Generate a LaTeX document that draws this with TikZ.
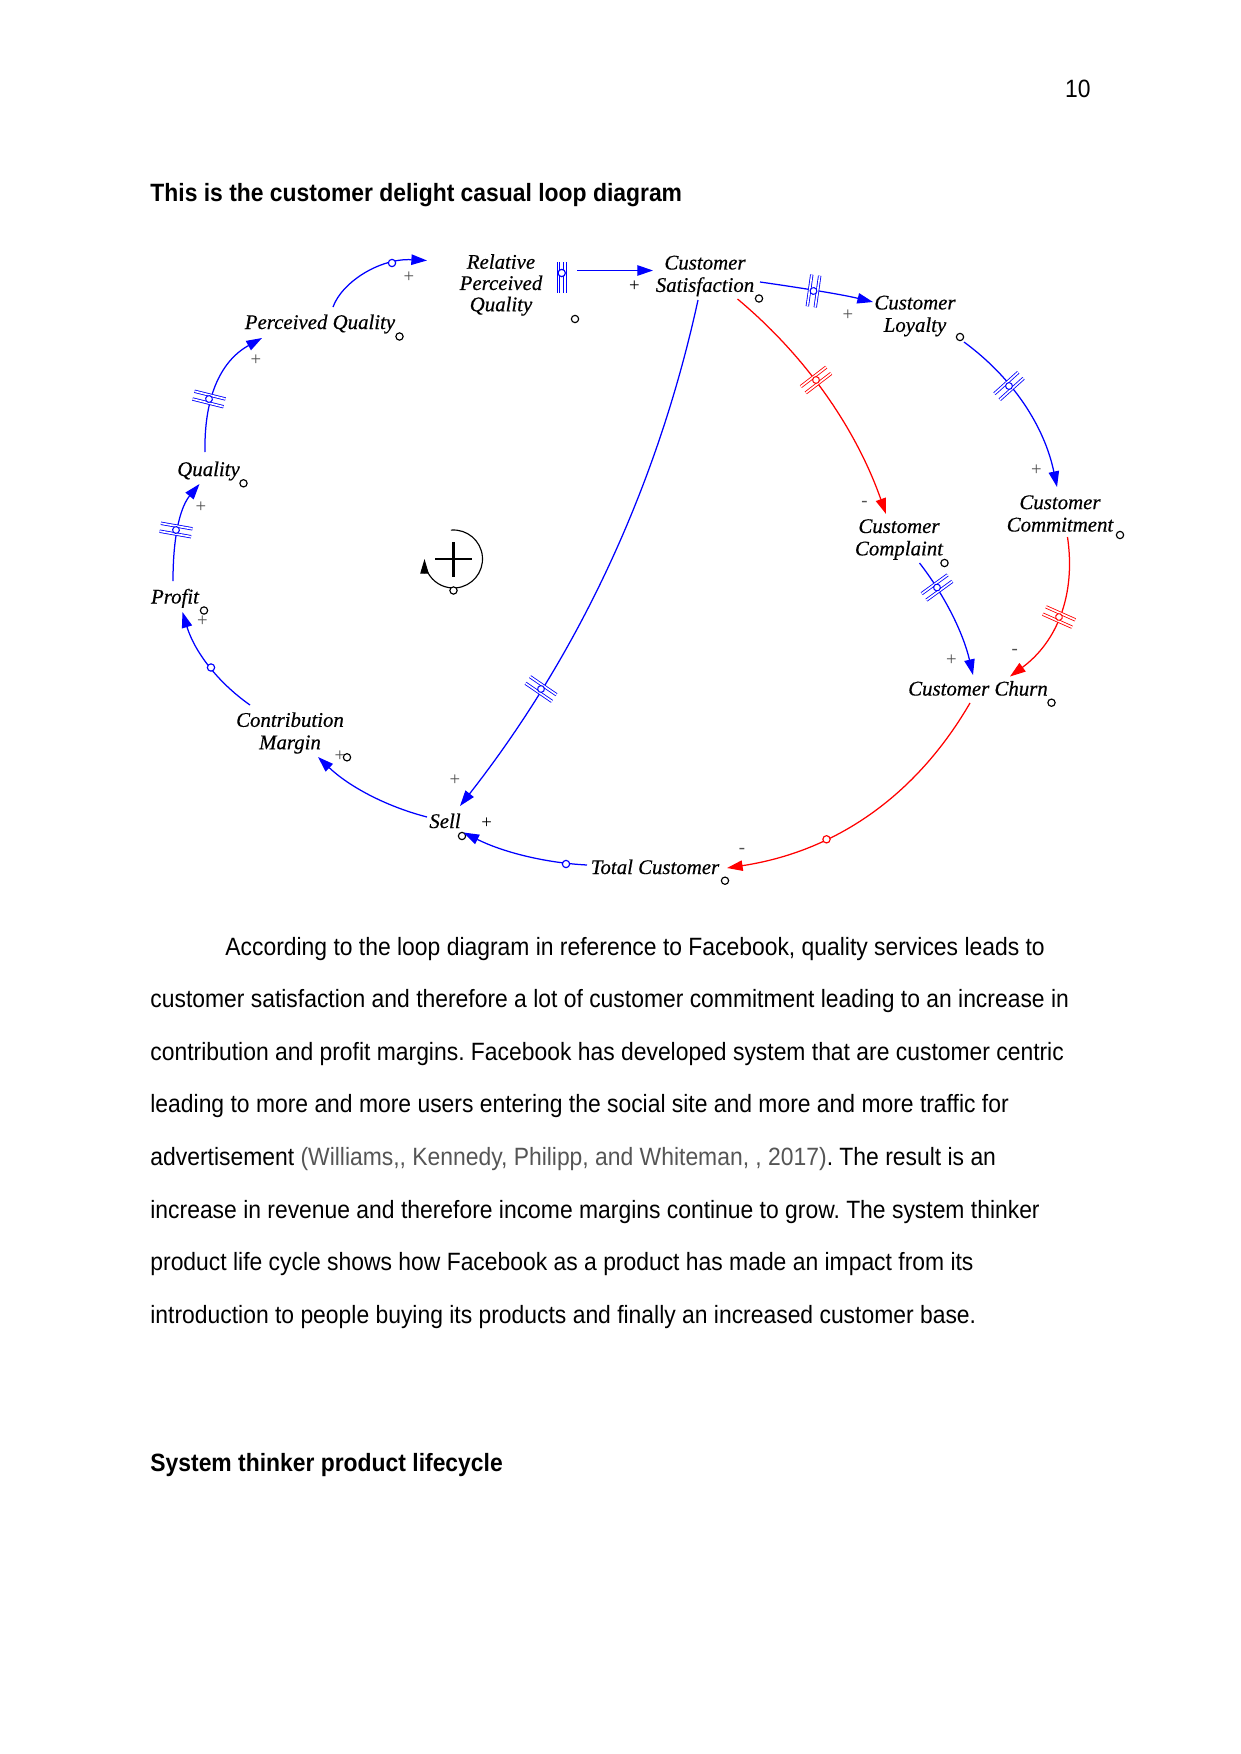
\documentclass[tikz,border=0pt]{standalone}
\usepackage{fontspec}
\setmainfont{Liberation Sans}
\newfontfamily\bodyfont{Liberation Sans}[FakeStretch=0.915]
\newfontfamily\vfont{Liberation Serif}[FakeBold=0.45]
\newfontfamily\sgnfont{Liberation Serif}
\usetikzlibrary{arrows.meta}
\definecolor{vblue}{HTML}{0000FF}
\definecolor{vred}{HTML}{FF0000}
\definecolor{sgn}{HTML}{505050}
\definecolor{citegray}{HTML}{555555}
\frenchspacing
\begin{document}
\begin{tikzpicture}[x=0.4797pt, y=-0.4797pt,
  var/.style={font=\vfont\itshape\fontsize{10}{10.75}\selectfont, inner sep=0pt, align=center},
  body/.style={font=\bodyfont\fontsize{12}{14}\selectfont, inner sep=0pt, anchor=base west},
  head/.style={font=\bodyfont\bfseries\fontsize{12}{14}\selectfont, inner sep=0pt, anchor=base west},
  link/.style={line width=0.6pt, -{Triangle[length=7.5pt,width=5pt]}},
  pol/.style={font=\sgnfont\fontsize{9}{9}\selectfont, text=sgn, inner sep=0pt},
  hole/.style={circle, draw, fill=white, line width=0.55pt, inner sep=0pt, minimum size=3.5pt},
  pics/delaymark/.style={code={
    \draw[line width=0.4pt, double=white, double distance=0.8pt] (-4,-16) -- (-4,16) (4,-16) -- (4,16);
    \draw[line width=0.5pt, fill=white] (0,0) circle (3.4);
  }}
]
\useasboundingbox (0,0) rectangle (1241,1754);

% ---------- page text ----------
\node[body, anchor=base east] (pgnum) at (1091,97.5) {10};
\node[head] (title) at (150,201) {This is the customer delight casual loop diagram};
\node[body] (l1) at (225,955) {According to the loop diagram in reference to Facebook, quality services leads to};
\node[body] (l2) at (150,1007.6) {customer satisfaction and therefore a lot of customer commitment leading to an increase in};
\node[body] (l3) at (150,1060.2) {contribution and profit margins. Facebook has developed system that are customer centric};
\node[body] (l4) at (150,1112.8) {leading to more and more users entering the social site and more and more traffic for};
\node[body] (l5) at (150,1165.4) {advertisement {\color{citegray}(Williams,, Kennedy, Philipp, and Whiteman, , 2017)}. The result is an};
\node[body] (l6) at (150,1218) {increase in revenue and therefore income margins continue to grow. The system thinker};
\node[body] (l7) at (150,1270.6) {product life cycle shows how Facebook as a product has made an impact from its};
\node[body] (l8) at (150,1323.2) {introduction to people buying its products and finally an increased customer base.};
\node[head] (title2) at (150,1471.5) {System thinker product lifecycle};

% ---------- variables ----------
\node[var, font=\vfont\itshape\fontsize{10}{10.2}\selectfont] (rpq) at (501,285) {Relative\\Perceived\\Quality};
\node[var] (cs) at (705,276) {Customer\\Satisfaction};
\node[var] (cl) at (915,316) {Customer\\Loyalty};
\node[var] (ccm) at (1060,513.5) {Customer\\Commitment};
\node[var] (ccp) at (899,539.5) {Customer\\Complaint};
\node[var] (cm) at (290,733) {Contribution\\Margin};
\node[var, anchor=base] (pq) at (320,329) {Perceived Quality};
\node[var, anchor=base] (q) at (208.5,476) {Quality};
\node[var, anchor=base] (pr) at (175,603.5) {Profit};
\node[var, anchor=base] (sell) at (445,828) {Sell};
\node[var, anchor=base] (tc) at (655,874) {Total Customer};
\node[var, anchor=base] (ch) at (978,695.5) {Customer Churn};

% small black circles beside the variables
\node[hole] (h-rpq) at (575,319) {};
\node[hole] (h-cs) at (759,298.5) {};
\node[hole] (h-cl) at (960,337) {};
\node[hole] (h-ccm) at (1120,535) {};
\node[hole] (h-ccp) at (944.5,563) {};
\node[hole] (h-ch) at (1051.5,702.7) {};
\node[hole] (h-tc) at (725,880.7) {};
\node[hole] (h-sell) at (462,836) {};
\node[hole] (h-cm) at (347,757.3) {};
\node[hole] (h-pr) at (204,610.5) {};
\node[hole] (h-q) at (243.5,483.3) {};
\node[hole] (h-pq) at (399.5,336.5) {};

% ---------- connector end points ----------
\coordinate (pq-out) at (333,307);   \coordinate (rpq-in) at (427,260.5);
\coordinate (q-out) at (205,452);    \coordinate (pq-in) at (262,338);
\coordinate (pr-out) at (173,581);   \coordinate (q-in) at (199.5,484);
\coordinate (cm-out) at (250,705);   \coordinate (pr-in) at (182.5,612);
\coordinate (sell-out) at (427,817); \coordinate (cm-in) at (318,757);
\coordinate (tc-out) at (587,865);   \coordinate (sell-in) at (463.5,832.5);
\coordinate (ch-out) at (970,703);   \coordinate (tc-in) at (727,868);
\coordinate (cs-out2) at (698,300);  \coordinate (sell-in2) at (460,806);
\coordinate (cs-out3) at (737.5,299);\coordinate (ccp-in) at (886,514);
\coordinate (cs-out1) at (760,282);  \coordinate (cl-in) at (873,302);
\coordinate (cl-out) at (964,342);   \coordinate (ccm-in) at (1057,487);
\coordinate (ccp-out) at (919.5,563);\coordinate (ch-in1) at (973,675);
\coordinate (ccm-out) at (1067.5,537);\coordinate (ch-in2) at (1010,676.5);
\coordinate (rpq-out) at (577,270.5);\coordinate (cs-in) at (653,270.5);

% ---------- connectors ----------
\draw[link, vblue] (pq-out) .. controls (342,282) and (380,258) .. (rpq-in);
\draw[link, vblue] (q-out) .. controls (204,400) and (219,362) .. (pq-in);
\draw[link, vblue] (pr-out) .. controls (173,530) and (182,505) .. (q-in);
\draw[link, vblue] (cm-out) .. controls (216.8,681.7) and (194.2,650.7) .. (pr-in);
\draw[link, vblue] (sell-out) .. controls (385.3,806.2) and (348.7,786.2) .. (cm-in);
\draw[link, vblue] (tc-out) .. controls (543.4,862.7) and (502,851.7) .. (sell-in);
\draw[link, vred] (ch-out) .. controls (915.6,796.6) and (835,851.6) .. (tc-in);
\draw[link, vblue] (cs-out2) .. controls (657.3,486.9) and (577.9,655.5) .. (sell-in2);
\draw[link, vred] (cs-out3) .. controls (806.5,356.7) and (856.1,429.1) .. (ccp-in);
\draw[link, vblue] (cs-out1) .. controls (795,287) and (840,294) .. (cl-in);
\draw[link, vblue] (cl-out) .. controls (1013.5,378.4) and (1044.5,426.8) .. (ccm-in);
\draw[link, vblue] (ccp-out) .. controls (945.4,596.3) and (963.4,633.7) .. (ch-in1);
\draw[link, vred] (ccm-out) .. controls (1076.1,595.6) and (1056.5,642.2) .. (ch-in2);
\draw[link, vblue] (rpq-out) -- (cs-in);

% arrow handles
\node[hole, draw=vblue] (k1) at (392,263) {};
\node[hole, draw=vblue] (k2) at (211,667.5) {};
\node[hole, draw=vblue] (k3) at (566,864) {};
\node[hole, draw=vred] (k4) at (826.5,839.3) {};

% delay marks
\pic[color=vblue, rotate=76] at (209,399) {delaymark};
\pic[color=vblue, rotate=80] at (176,530) {delaymark};
\pic[color=vblue, rotate=-8] at (813.5,291) {delaymark};
\pic[color=vblue, rotate=-48] at (1009,386) {delaymark};
\pic[color=vred, rotate=-52.5] at (816,380) {delaymark};
\pic[color=vblue, rotate=-54] at (937,587.5) {delaymark};
\pic[color=vred, rotate=66] at (1059,617) {delaymark};
\pic[color=vblue, rotate=55.6] at (541,689) {delaymark};
% mark at Relative Perceived Quality
\draw[vblue, line width=0.4pt, double=white, double distance=0.8pt] (558.5,262) -- (558.5,293) (565,262) -- (565,293);
\node[hole, draw=vblue] (k5) at (561.7,273) {};

% polarity signs
\node[pol] (s1) at (409,277) {+};
\node[pol] (s2) at (256,360) {+};
\node[pol] (s3) at (201,507.5) {+};
\node[pol] (s4) at (202.5,621.5) {+};
\node[pol] (s5) at (340,756) {+};
\node[pol, text=black] (s6) at (486.7,823.5) {+};
\node[pol] (s7) at (455,780) {+};
\node[pol, text=black] (s8) at (634.5,286) {+};
\node[pol] (s9) at (848,315.5) {+};
\node[pol] (s10) at (1036.3,470.5) {+};
\node[pol] (s11) at (864.5,504) {-};
\node[pol] (s12) at (951.3,660) {+};
\node[pol] (s13) at (1014.8,652) {-};
\node[pol] (s14) at (742,851) {-};

% loop symbol
\begin{scope}[shift={(453.5,559)}, y=0.4797pt]
  \draw[line width=0.55pt, -{Triangle[length=7pt,width=4pt]}] (95:29) arc[start angle=95, end angle=-180, radius=29];
  \node[hole] (loopc) at (-90:31.5) {};
  \draw[line width=1.3pt] (-18.3,0) -- (18.3,0) (0,-17.5) -- (0,17.5);
\end{scope}
\end{tikzpicture}
\end{document}
